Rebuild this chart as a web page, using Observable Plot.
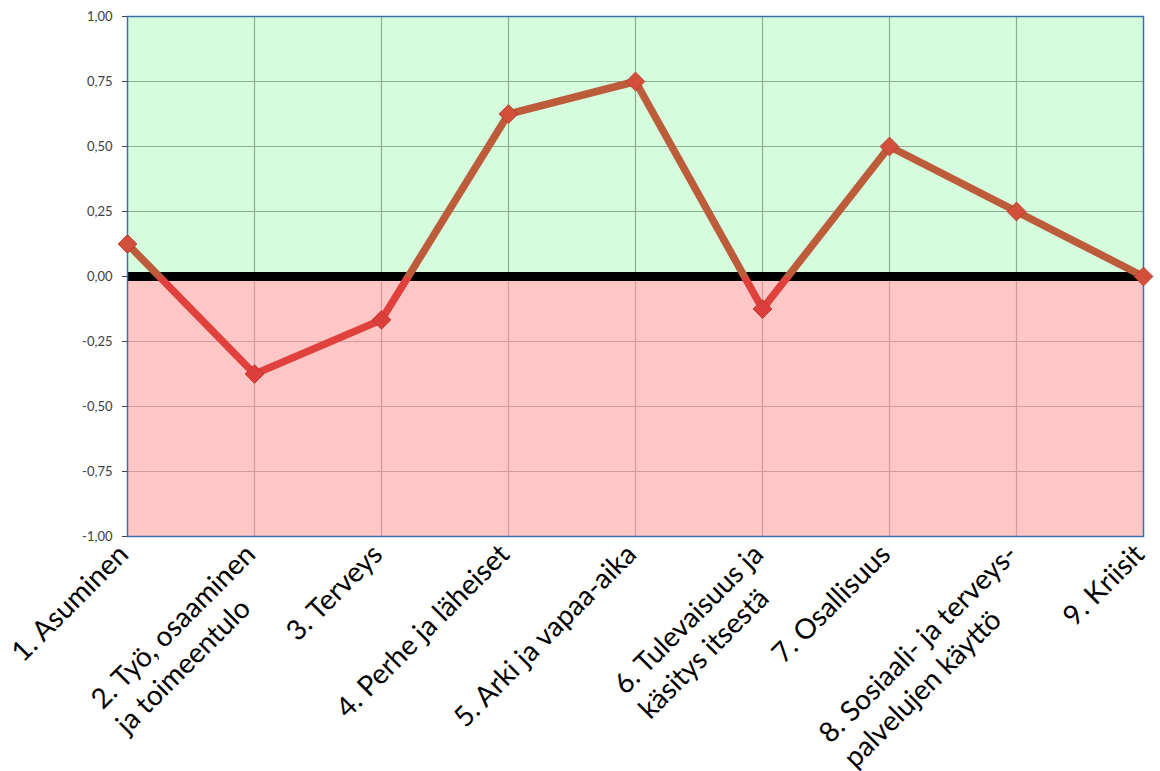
<!DOCTYPE html>
<html><head><meta charset="utf-8">
<script src="https://cdn.jsdelivr.net/npm/d3@7"></script>
<script src="https://cdn.jsdelivr.net/npm/@observablehq/plot@0.6"></script>
<style>body{margin:0;background:#fff;}</style>
</head><body><div id="chart"></div>
<script>
const categories = [
  "1. Asuminen",
  "2. Työ, osaaminen\nja toimeentulo",
  "3. Terveys",
  "4. Perhe ja läheiset",
  "5. Arki ja vapaa-aika",
  "6. Tulevaisuus ja\nkäsitys itsestä",
  "7. Osallisuus",
  "8. Sosiaali- ja terveys-\npalvelujen käyttö",
  "9. Kriisit"
];
const values = [0.125, -0.375, -0.1667, 0.625, 0.75, -0.125, 0.5, 0.25, 0];
const yTicks = [-1, -0.75, -0.5, -0.25, 0, 0.25, 0.5, 0.75, 1];

const data = categories.map((c, i) => ({category: c, value: values[i]}));
const fmt = d => d.toFixed(2).replace(".", ",");
const inner = yTicks.filter(v => v > -1 && v < 1 && v !== 0);

const plot = Plot.plot({
  width: 1160, height: 771,
  marginLeft: 127, marginRight: 17, marginTop: 16, marginBottom: 235,
  style: {fontFamily: "Lato, sans-serif", background: "#fff"},
  x: {type: "point", domain: categories, padding: 0, axis: null},
  y: {domain: [-1, 1], axis: null},
  color: {type: "identity"},
  marks: [
    Plot.areaY(categories, {x: d => d, y1: 0, y2: 1, fill: "#d5fcdc"}),
    Plot.areaY(categories, {x: d => d, y1: -1, y2: 0, fill: "#ffc6c6"}),
    Plot.ruleY(inner.filter(v => v > 0), {stroke: "#8fae95", strokeWidth: 1.2}),
    Plot.ruleY(inner.filter(v => v < 0), {stroke: "#d69a9c", strokeWidth: 1.2}),
    Plot.ruleX(categories.slice(1, -1), {y1: 0, y2: 1, stroke: "#8fae95", strokeWidth: 1.2}),
    Plot.ruleX(categories.slice(1, -1), {y1: -1, y2: 0, stroke: "#d69a9c", strokeWidth: 1.2}),
    Plot.ruleY([0], {stroke: "#000", strokeWidth: 9}),
    Plot.frame({stroke: "#3c6fa8", strokeWidth: 1.5}),
    Plot.axisY({ticks: yTicks, tickFormat: fmt, tickSize: 5, tickPadding: 10, fontSize: 13, color: "#404040", label: null}),
    Plot.line(data, {x: "category", y: "value", stroke: "url(#lineGrad)", strokeWidth: 7.5, strokeLinejoin: "round"}),
    Plot.dot(data, {x: "category", y: "value", symbol: "diamond2", r: 8.5,
      fill: d => d.value >= 0 ? "#d2503a" : "#dc3e3a", stroke: "#b5362e", strokeWidth: 0.8}),
    Plot.text(data, {x: "category", frameAnchor: "bottom", text: "category", rotate: -45,
      textAnchor: "end", lineAnchor: "top", fontSize: 28, lineHeight: 1.25, fill: "#000", dy: 2, dx: -15})
  ]
});

document.getElementById("chart").appendChild(plot);

// gradient: brownish above zero, red below zero
const y0 = plot.scale("y").apply(0);
const H = 771;
const off = (y0 / H).toFixed(4);
d3.select(plot).insert("defs", ":first-child").html(
  `<linearGradient id="lineGrad" gradientUnits="userSpaceOnUse" x1="0" y1="0" x2="0" y2="${H}">
     <stop offset="0" stop-color="#bd5c3a"/><stop offset="${off}" stop-color="#bd5c3a"/>
     <stop offset="${off}" stop-color="#e0413c"/><stop offset="1" stop-color="#e0413c"/>
   </linearGradient>`);

// left-align lines within multi-line labels, block right edge at anchor
d3.select(plot).selectAll('g[aria-label="text"] text').each(function() {
  const spans = this.querySelectorAll("tspan");
  if (spans.length < 2) return;
  const w = Math.max(...Array.from(spans, s => s.getComputedTextLength()));
  this.setAttribute("text-anchor", "start");
  spans.forEach(s => s.setAttribute("x", -w));
});
</script>
</body></html>
